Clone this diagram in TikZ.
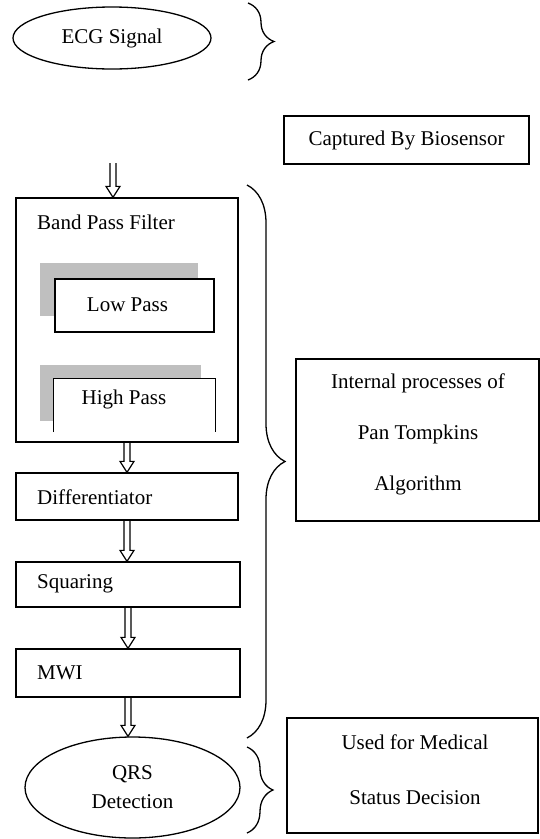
\documentclass[tikz,border=0pt]{standalone}
\usepackage{fontspec}
\setmainfont{Liberation Serif}
\usetikzlibrary{calc,decorations.pathreplacing,shapes.geometric}

\tikzset{
  blk/.style={draw, line width=1.3pt, rectangle, inner sep=0pt},
  oval/.style={draw, line width=1.3pt, ellipse, inner sep=0pt},
  shade/.style={fill=black!25, inner sep=0pt},
  lbl/.style={anchor=west, inner sep=0pt},
  brc/.style={decorate, line width=1.3pt, decoration={brace, amplitude=#1}},
  hollow/.style={line width=1.2pt, to path={let \p1=(\tikztostart), \p2=(\tikztotarget) in
    (\x1-3pt,\y1) -- (\x1-3pt,\y2+11pt) -- (\x1-7pt,\y2+11pt) -- (\x1,\y2)
    -- (\x1+7pt,\y2+11pt) -- (\x1+3pt,\y2+11pt) -- (\x1+3pt,\y1)}}
}

\begin{document}
\begin{tikzpicture}[x=1pt,y=-1pt,font=\fontsize{21}{25}\selectfont]
	\useasboundingbox (0,0) rectangle (540,839);
	% input
	\node[oval, minimum width=198pt, minimum height=62pt] (ecg) at (112,38) {ECG Signal};
	\draw[brc=26pt] (248,3) -- (248,80);
	\node[blk, minimum width=245pt, minimum height=48pt] (capt) at (406.5,140) {Captured By Biosensor};
	% band pass filter
	\coordinate (in) at (113,163);
	\node[blk, minimum width=222pt, minimum height=244pt] (bpf) at (127,320) {};
	\node[lbl] (bpft) at (37,222) {Band Pass Filter};
	\draw[hollow] (in) to (in |- bpf.north);
	\node[shade, minimum width=158pt, minimum height=53pt] (lps) at (119,289.5) {};
	\node[blk, fill=white, minimum width=159pt, minimum height=53pt] (lp) at (134.5,305.5) {};
	\node (lpt) at (127.5,305) {Low Pass};
	\node[shade, minimum width=161pt, minimum height=56pt] (hps) at (120.5,393) {};
	\node[fill=white, inner sep=0pt, minimum width=161pt, minimum height=53pt] (hp) at (134.5,405.5) {};
	\draw[line width=1.3pt] (hp.south west) |- (hp.north east) -- (hp.south east);
	\node (hpt) at (124,399) {High Pass};
	% later stages
	\node[blk, minimum width=222pt, minimum height=47pt] (dif) at (127,496.5) {};
	\node[lbl] (dift) at (37,497) {Differentiator};
	\node[blk, minimum width=224pt, minimum height=45pt] (sq) at (128,584.5) {};
	\node[lbl] (sqt) at (37,584) {Squaring};
	\node[blk, minimum width=224pt, minimum height=48pt] (mwi) at (128,673) {};
	\node[lbl] (mwit) at (37,673) {MWI};
	\node[oval, minimum width=215pt, minimum height=101pt, align=center] (qrs) at (132.5,787.5) {QRS\\[4pt]Detection};
	\draw[hollow] (bpf.south) to (dif.north);
	\draw[hollow] (dif.south) to (sq.north);
	\draw[hollow] (sq.south) to (mwi.north);
	\draw[hollow] (mwi.south) to (qrs.north);
	% notes on the right
	\draw[brc=38pt] (247,185) -- (247,738);
	\node[blk, minimum width=243pt, minimum height=162pt] (pt) at (417.5,440) {};
	\node[align=center] (ptt) at (418,434) {Internal processes of\\[26pt]Pan Tompkins\\[26pt]Algorithm};
	\draw[brc=26pt] (247,747) -- (247,833);
	\node[blk, minimum width=251pt, minimum height=115pt] (med) at (412.5,775.5) {};
	\node[align=center] (medt) at (415,769.5) {Used for Medical\\[30pt]Status Decision};
\end{tikzpicture}
\end{document}
